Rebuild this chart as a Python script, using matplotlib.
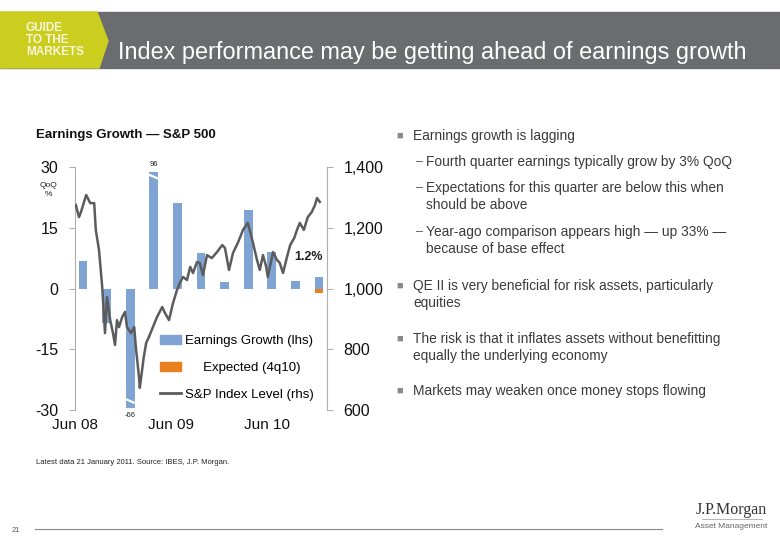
import numpy as np
import matplotlib
matplotlib.use('Agg')
import matplotlib.pyplot as plt
from matplotlib.patches import Rectangle, Polygon, Patch
from matplotlib.lines import Line2D

plt.rcParams['font.family'] = ['Liberation Sans', 'DejaVu Sans']

# quarterly earnings growth QoQ %, from Q2 2008 to Q4 2010 (last = 4q10)
quarters = ['2q08', '3q08', '4q08', '1q09', '2q09', '3q09', '4q09',
            '1q10', '2q10', '3q10', '4q10']
earn_growth = [6.7, -8.4, -66, 96, 21, 8.8, 1.5, 19.5, 9.1, 1.8, 2.9]
expected = [0, 0, 0, 0, 0, 0, 0, 0, 0, 0, -1.0]
last_label = '1.2%'

# S&P 500 level (rhs), months after Jun 2008
sp_month = [0.1, 0.5, 0.75, 1.4, 1.9, 2.4, 2.6, 3.0, 3.4, 3.75, 4.0, 4.4, 4.75,
            5.0, 5.25, 5.5, 5.9, 6.25, 6.5, 7.0, 7.4, 7.6, 8.0, 8.1, 8.6, 8.9,
            9.25, 9.6, 10.25, 10.9, 11.25, 11.75, 12.25, 12.75, 13.1, 13.5,
            14.0, 14.4, 14.75, 15.25, 15.6, 16.0, 16.5, 17.1, 17.75, 18.4,
            18.75, 19.25, 19.75, 20.4, 21.0, 21.6, 22.25, 22.75, 23.1, 23.5,
            23.9, 24.1, 24.75, 25.25, 25.6, 26.0, 26.5, 26.9, 27.4, 27.75,
            28.1, 28.6, 29.1, 29.6, 30.0, 30.25, 30.6]
sp_level = [1275, 1235, 1252, 1308, 1281, 1281, 1193, 1127, 1005, 853, 972, 896,
            853, 814, 896, 873, 906, 923, 873, 853, 873, 808, 709, 673, 775,
            821, 841, 864, 906, 939, 919, 896, 952, 995, 1018, 1038, 1028,
            1071, 1051, 1087, 1084, 1044, 1110, 1100, 1120, 1143, 1133, 1061,
            1117, 1153, 1193, 1216, 1150, 1094, 1061, 1110, 1071, 1038, 1120,
            1094, 1084, 1051, 1104, 1143, 1166, 1193, 1216, 1193, 1235, 1252,
            1275, 1298, 1285]

x_ticks = [0, 12, 24]
x_labels = ['Jun 08', 'Jun 09', 'Jun 10']
left_ticks = [-30, -15, 0, 15, 30]
right_ticks = [600, 800, 1000, 1200, 1400]

bullets = [
    (0, ['Earnings growth is lagging']),
    (1, ['Fourth quarter earnings typically grow by 3% QoQ']),
    (1, ['Expectations for this quarter are below this when', 'should be above']),
    (1, ['Year-ago comparison appears high \u2014 up 33% \u2014', 'because of base effect']),
    (0, ['QE II is very beneficial for risk assets, particularly', 'equities']),
    (0, ['The risk is that it inflates assets without benefitting', 'equally the underlying economy']),
    (0, ['Markets may weaken once money stops flowing']),
]
bullet_y = [136, 162, 188, 232, 286, 339, 391]

W, H = 780, 540
BLUE = '#7fa4d4'
ORANGE = '#e8801e'
LINE = '#5c5c5c'
TXT = '#3a3a3a'


def px(x, y):
    return x / W, 1 - y / H


fig = plt.figure(figsize=(7.8, 5.4), dpi=100)

# header band
fig.patches.append(Rectangle(px(0, 68), 1, 56 / H, transform=fig.transFigure,
                             color='#6b6c6f', zorder=0))
fig.patches.append(Polygon([px(0, 12), px(97, 12), px(108, 41), px(99, 68), px(0, 68)],
                           closed=True, transform=fig.transFigure, color='#cbce1e', zorder=1))
for i, t in enumerate(['GUIDE', 'TO THE', 'MARKETS']):
    fig.text(*px(26, 28 + i * 12), t, color='#f6f6dc', fontsize=8.5, fontweight='bold',
             va='center', ha='left')
fig.text(*px(118, 53), 'Index performance may be getting ahead of earnings growth',
         color='white', fontsize=16.9, va='center', ha='left')

# chart: bars on the left axis, index line on the right axis drawn above
ax = fig.add_axes([75 / W, 1 - 410 / H, 252 / W, 243 / H])
ax2 = ax.twinx()

ylo, yhi = -30, 30
q_pos = 1 + 2.95 * np.arange(len(quarters))
shown = np.clip(earn_growth, ylo + 0.4, yhi - 1.2)
ax.bar(q_pos, shown, width=1.12, color=BLUE, zorder=2)
ax.bar(q_pos, expected, width=1.12, color=ORANGE, zorder=2)

# break marks on truncated bars
for xp, v in zip(q_pos, earn_growth):
    if v > yhi or v < ylo:
        yb = yhi - 2.4 if v > 0 else ylo + 2.2
        ax.plot([xp - 0.6, xp + 0.6], [yb + 0.5, yb - 0.5], color='white', lw=1.6,
                zorder=3, solid_capstyle='butt')
        if v > 0:
            ax.text(xp, yhi - 0.3, f'{v:g}', fontsize=5.5, ha='center', va='bottom',
                    color='#222222')
        else:
            ax.text(xp, ylo - 0.6, f'{v:g}', fontsize=5.5, ha='center', va='top',
                    color='#222222')
ax.text(q_pos[-1] + 0.5, earn_growth[-1] + 3.5, last_label, fontsize=9,
        fontweight='bold', ha='right', va='bottom', color='#222222')

ax2.plot(sp_month, sp_level, color=LINE, lw=1.8, zorder=1)

ax.set_xlim(0, 31.5)
ax.set_ylim(ylo, yhi)
ax2.set_ylim(600, 1400)
ax.set_yticks(left_ticks)
ax.set_yticklabels([f'{t:g}' for t in left_ticks])
ax2.set_yticks(right_ticks)
ax2.set_yticklabels([f'{t:,}' for t in right_ticks])
ax.set_xticks(x_ticks)
ax.set_xticklabels(x_labels)

for a in (ax, ax2):
    for s in ('top', 'bottom'):
        a.spines[s].set_visible(False)
ax.spines['right'].set_visible(False)
ax2.spines['left'].set_visible(False)
ax.spines['left'].set_color('#b0b0b0')
ax2.spines['right'].set_color('#b0b0b0')
ax.tick_params(axis='y', length=4, color='#b0b0b0', labelsize=11.5, pad=8,
               labelcolor='#111111')
ax2.tick_params(axis='y', length=4, color='#b0b0b0', labelsize=11.5, pad=8,
                labelcolor='#111111')
ax.tick_params(axis='x', length=0, labelsize=11, pad=6, labelcolor='#111111')

ax.text(-0.105, 0.905, 'QoQ\n%', transform=ax.transAxes, fontsize=6, ha='center',
        va='center', color='#222222', linespacing=1.4)

handles = [Patch(color=BLUE), Patch(color=ORANGE), Line2D([], [], color=LINE, lw=2)]
labels = ['Earnings Growth (lhs)', '     Expected (4q10)', 'S&P Index Level (rhs)']
ax2.legend(handles, labels, loc='upper left', bbox_to_anchor=(0.315, 0.33),
           frameon=False, fontsize=9.5, handlelength=1.6, handletextpad=0.3,
           labelspacing=1.1, borderaxespad=0)

fig.text(*px(36, 135), 'Earnings Growth \u2014 S&P 500', fontsize=9.5,
         fontweight='bold', va='center', ha='left', color='#111111')

# bullets on the right
for (lvl, lines), y0 in zip(bullets, bullet_y):
    if lvl == 0:
        fig.text(*px(400, y0), '\u25a0', fontsize=8, color='#8a8a8a', va='center', ha='center')
        x0 = 413
    else:
        fig.text(*px(419, y0), '\u2013', fontsize=9, color='#555555', va='center', ha='center')
        x0 = 426
    for j, ln in enumerate(lines):
        fig.text(*px(x0, y0 + j * 17), ln, fontsize=9.9, color=TXT, va='center', ha='left')

# footer
fig.text(*px(36, 463), 'Latest data 21 January 2011. Source: IBES, J.P. Morgan.',
         fontsize=5.5, color='#222222', va='center', ha='left')
fig.text(*px(12, 530), '21', fontsize=5.5, color='#555555', va='center', ha='left')
fig.add_artist(Line2D([35 / W, 662 / W], [1 - 529 / H] * 2, color='#888888', lw=0.8))
fig.text(*px(731, 510), 'J.P.Morgan', fontsize=11.5, family='Liberation Serif',
         color='#333333', va='center', ha='center')
fig.add_artist(Line2D([702 / W, 762 / W], [1 - 519 / H] * 2, color='#aaaaaa', lw=0.6))
fig.text(*px(731, 527), 'Asset Management', fontsize=6, color='#666666',
         va='center', ha='center')

fig.savefig('out.png', dpi=100, facecolor='white')
